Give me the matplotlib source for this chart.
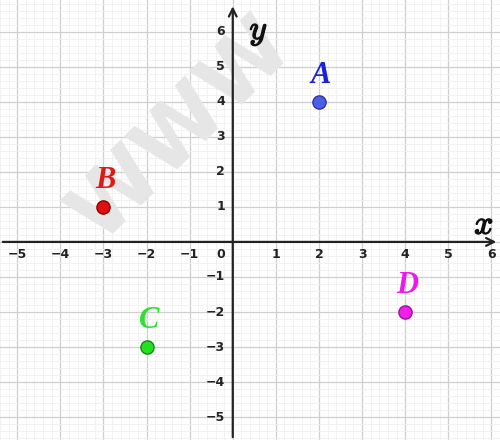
import numpy as np
import matplotlib.pyplot as plt
import matplotlib.patheffects as pe
from matplotlib.ticker import MultipleLocator

plt.rcParams['mathtext.fontset'] = 'cm'

# points
names = ['A', 'B', 'C', 'D']
xs = [2, -3, -2, 4]
ys = [4, 1, -3, -2]
face = ['#4f5ee8', '#e01010', '#22e022', '#f020e8']
edge = ['#2a35a8', '#8a0000', '#138a13', '#a0109a']
txtcol = ['#1a22d8', '#e01818', '#30e030', '#ee18ee']

xticks = [-5, -4, -3, -2, -1, 1, 2, 3, 4, 5, 6]
yticks = [-5, -4, -3, -2, -1, 1, 2, 3, 4, 5, 6]

fig = plt.figure(figsize=(5, 4.4), dpi=100)
ax = fig.add_axes([0, 0, 1, 1])
ax.set_xlim(-5.4, 6.2)
ax.set_ylim(-5.65, 6.9)

ax.xaxis.set_major_locator(MultipleLocator(1))
ax.yaxis.set_major_locator(MultipleLocator(1))
ax.xaxis.set_minor_locator(MultipleLocator(0.2))
ax.yaxis.set_minor_locator(MultipleLocator(0.2))
ax.grid(which='major', color='#cfcfcf', lw=0.9, zorder=0)
ax.grid(which='minor', color='#f0f0f0', lw=0.6, zorder=0)
ax.set_axisbelow(True)
ax.tick_params(which='both', length=0, labelbottom=False, labelleft=False)
for s in ax.spines.values():
    s.set_visible(False)

# watermark
ax.text(-1.2, 3.2, 'WWW', fontsize=60, fontweight='bold', color='#e6e6e6',
        rotation=45, ha='center', va='center', zorder=1)

# axes with arrows
ax.annotate('', xy=(6.18, 0), xytext=(-5.4, 0),
            arrowprops=dict(arrowstyle='->', color='#222222', lw=1.6,
                            mutation_scale=14), zorder=3)
ax.annotate('', xy=(0, 6.8), xytext=(0, -5.65),
            arrowprops=dict(arrowstyle='->', color='#222222', lw=1.6,
                            mutation_scale=14), zorder=3)

for t in xticks:
    ax.text(t, -0.35, str(t).replace('-', '\u2212'), ha='center', va='center',
            fontsize=9, fontweight='bold', color='#222222')
for t in yticks:
    ax.text(-0.18, t, str(t).replace('-', '\u2212'), ha='right', va='center',
            fontsize=9, fontweight='bold', color='#222222')
ax.text(-0.18, -0.35, '0', ha='right', va='center', fontsize=9,
        fontweight='bold', color='#222222')

bold = [pe.withStroke(linewidth=1.0, foreground='#111111')]
ax.text(5.83, 0.5, '$x$', fontsize=24, ha='center', va='center',
        color='#111111', path_effects=bold)
ax.text(0.6, 6.0, '$y$', fontsize=24, ha='center', va='center',
        color='#111111', path_effects=bold)

for n, x, y, fc, ec, tc in zip(names, xs, ys, face, edge, txtcol):
    ax.plot(x, y, 'o', ms=9.5, mfc=fc, mec=ec, mew=1.0, zorder=4)
    ax.text(x + 0.05, y + 0.75, n, fontsize=22, family='Liberation Serif',
            style='italic', fontweight='bold', color=tc, ha='center',
            va='center', zorder=4)

fig.savefig('out.png', dpi=100)
